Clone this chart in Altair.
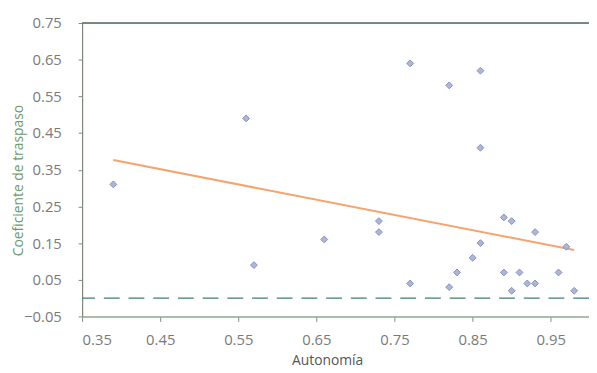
import altair as alt
import pandas as pd

# Data
autonomia = [0.39, 0.56, 0.57, 0.66, 0.73, 0.73, 0.77, 0.77, 0.82, 0.82, 0.83, 0.85, 0.86,
             0.86, 0.86, 0.89, 0.89, 0.90, 0.90, 0.91, 0.92, 0.93, 0.93, 0.96, 0.97, 0.98]
coeficiente = [0.31, 0.49, 0.09, 0.16, 0.21, 0.18, 0.64, 0.04, 0.58, 0.03, 0.07, 0.11, 0.62,
               0.41, 0.15, 0.22, 0.07, 0.21, 0.02, 0.07, 0.04, 0.18, 0.04, 0.07, 0.14, 0.02]
x_ticks = [0.35, 0.45, 0.55, 0.65, 0.75, 0.85, 0.95]
y_ticks = [-0.05, 0.05, 0.15, 0.25, 0.35, 0.45, 0.55, 0.65, 0.75]
zero_line = [0.0]
top_line = [0.75]

df = pd.DataFrame({"Autonomia": autonomia, "Coef": coeficiente})

FONT = "Open Sans, sans-serif"

xscale = alt.Scale(domain=[0.35, 0.999], nice=False, zero=False)
yscale = alt.Scale(domain=[-0.05, 0.75], nice=False, zero=False)

xaxis = alt.Axis(values=x_ticks, format=".2f", grid=False, title="Autonomía",
                 domainColor="#8fae8f", domainWidth=1.5, tickColor="#7d8f7d", tickSize=5,
                 labelColor="#7a7a7a", labelFont=FONT, labelFontSize=15, labelPadding=11,
                 labelOverlap=False,
                 titleColor="#555555", titleFont=FONT, titleFontSize=14, titleFontWeight="normal",
                 titlePadding=7, titleX=248)
yaxis = alt.Axis(values=y_ticks, format=".2f", grid=False, title="Coeficiente de traspaso",
                 domainColor="#7d8a7d", domainWidth=1.2, tickColor="#7d8a7d", tickSize=4,
                 labelColor="#7a7a7a", labelFont=FONT, labelFontSize=15, labelPadding=17,
                 labelOverlap=False, labelBound=False,
                 titleColor="#6b9a6b", titleFont=FONT, titleFontSize=14, titleFontWeight="normal",
                 titleX=-64, titleY=159, titleBaseline="middle", titleAlign="center", titleAngle=270)

base = alt.Chart(df)

points = base.mark_point(shape="diamond", filled=True, size=48, fill="#adb6da",
                         stroke="#8790b8", strokeWidth=1, opacity=1).encode(
    x=alt.X("Autonomia:Q", scale=xscale, axis=xaxis),
    y=alt.Y("Coef:Q", scale=yscale, axis=yaxis),
)

trend = base.transform_regression("Autonomia", "Coef").mark_line(
    color="#f5a46e", strokeWidth=2).encode(
    x=alt.X("Autonomia:Q", scale=xscale, axis=xaxis),
    y=alt.Y("Coef:Q", scale=yscale, axis=yaxis),
)

zero = alt.Chart(pd.DataFrame({"Coef": zero_line})).mark_rule(
    color="#3f7f6f", strokeWidth=1.2, strokeDash=[16, 9]).encode(
    y=alt.Y("Coef:Q", scale=yscale, axis=yaxis))

top = alt.Chart(pd.DataFrame({"Coef": top_line})).mark_rule(
    color="#4a6a5a", strokeWidth=1.5).encode(
    y=alt.Y("Coef:Q", scale=yscale, axis=yaxis))

chart = alt.layer(zero, top, trend, points).properties(
    width=513, height=297,
    autosize=alt.AutoSizeParams(type="none"),
    padding={"left": 75, "top": 13, "right": 0, "bottom": 54},
    background="white",
).configure_view(stroke="#dfe5df", strokeWidth=1)

chart.save("out.html", embed_options={"renderer": "svg", "actions": False})
